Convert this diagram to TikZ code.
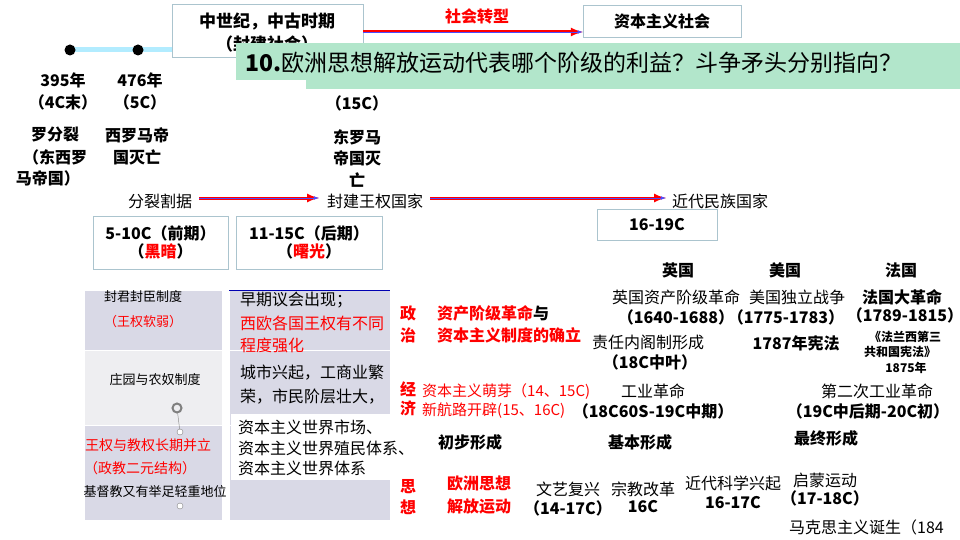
\documentclass[tikz,border=0pt]{standalone}
\usepackage{fontspec}
\setmainfont{Noto Sans CJK SC}
\usetikzlibrary{calc}
\begin{document}
\begin{tikzpicture}[x=1pt,y=-1pt,
  t/.style={inner sep=0pt,font=\fontsize{16}{18}\selectfont\bfseries},
  tn/.style={inner sep=0pt,font=\fontsize{16}{18}\selectfont},
  r/.style={text=red},
  bx/.style={draw=cyan!30!gray!60,line width=0.8pt,fill=white},
  arr/.style={-latex,line width=3pt,draw=red,postaction={draw=blue!70,line width=0.7pt,-latex}},
  cell/.style={fill=#1,draw=white,line width=1pt}]
\useasboundingbox (0,0) rectangle (960,540);
% timeline
\draw[line width=5pt,blue!25!cyan!30] (70,50) -- (240,50);
\node[circle,fill=black,minimum size=11pt,inner sep=0pt] (d1) at (70,50) {};
\node[circle,fill=black,minimum size=11pt,inner sep=0pt] (d2) at (138,50) {};
\node[bx,minimum width=191pt,minimum height=53pt] (mid) at (267.5,30.5) {};
\node[t,font=\fontsize{17}{19}\selectfont\bfseries] (mid1) at (267,22) {中世纪，中古时期};
\node[t,font=\fontsize{17}{19}\selectfont\bfseries] (mid2) at (267,44) {（封建社会）};
\node[bx,minimum width=158pt,minimum height=32pt] (cap) at (662,21) {};
\node[t] (capt) at (662,21) {资本主义社会};
\node[t,r] (zx) at (477,16) {社会转型};
\draw[arr] (mid.east |- 0,32) -- (cap.west |- 0,32);
% banner
\fill[green!35!teal!30!white] (306,50) rectangle (960,89);
\fill[green!35!teal!30!white] (236,43) rectangle (960,80);
\node[inner sep=0pt,anchor=west,font=\fontsize{23}{25}\selectfont] (q) at (245,63) {\textbf{10.}欧洲思想解放运动代表哪个阶级的利益？斗争矛头分别指向？};
% dates
\node[t] (a1) at (63,80) {395年};
\node[t] (a2) at (63,102) {（4C末）};
\node[t] (b1) at (140,80) {476年};
\node[t] (b2) at (140,102) {（5C）};
\node[t] (c2) at (357,103) {（15C）};
\node[t] (a3) at (55,135) {罗分裂};
\node[t] (a4) at (55,157) {（东西罗};
\node[t] (a5) at (48,178) {马帝国）};
\node[t] (b3) at (137,135) {西罗马帝};
\node[t] (b4) at (137,157) {国灭亡};
\node[t] (c3) at (357,137) {东罗马};
\node[t] (c4) at (357,158) {帝国灭};
\node[t] (c5) at (357,180) {亡};
\node[tn] (s1) at (160,201) {分裂割据};
\node[tn] (s2) at (375,201) {封建王权国家};
\node[tn] (s3) at (720,201) {近代民族国家};
\draw[arr] ($(s1.east)+(7,-3)$) -- ($(s2.west)+(-8,-3)$);
\draw[arr] ($(s2.east)+(7,-3)$) -- ($(s3.west)+(-6,-3)$);
\node[bx,minimum width=135pt,minimum height=53pt] (p1) at (160.5,242.5) {};
\node[t,align=center] at (p1) {5-10C（前期）\\（\textcolor{red}{黑暗}）};
\node[bx,minimum width=146pt,minimum height=53pt] (p2) at (309,242.5) {};
\node[t,align=center] at (p2) {11-15C（后期）\\（\textcolor{red}{曙光}）};
\node[bx,minimum width=120pt,minimum height=31pt] (p3) at (657,224.5) {};
\node[t] at (p3) {16-19C};
% table
\fill[cell={blue!20!gray!25}] (84,290) rectangle (222,350);
\fill[cell={blue!20!gray!25}] (229,290) rectangle (390,350);
\fill[cell={blue!10!gray!12}] (84,350) rectangle (222,425);
\fill[cell={blue!20!gray!25}] (229,350) rectangle (390,425);
\fill[cell={blue!20!gray!25}] (84,425) rectangle (222,520);
\fill[cell={blue!20!gray!25}] (229,425) rectangle (390,520);
\draw[blue!70!black,line width=0.8pt] (229,290) -- (390,290);
\node[tn,font=\fontsize{13}{15}\selectfont] at (143,297) {封君封臣制度};
\node[tn,r,font=\fontsize{13}{15}\selectfont] at (143,322) {（王权软弱）};
\node[tn,font=\fontsize{13}{15}\selectfont] at (155,380) {庄园与农奴制度};
\node[circle,draw=gray,line width=2pt,minimum size=9pt,inner sep=0pt] (ic) at (177,408) {};
\node[circle,draw=gray,fill=white,minimum size=6pt,inner sep=0pt] (h1) at (180,432) {};
\node[circle,draw=gray,fill=white,minimum size=6pt,inner sep=0pt] (h2) at (180,506) {};
\draw[gray] (ic) -- (h1);
\node[tn,r,font=\fontsize{14}{16}\selectfont] at (148,445) {王权与教权长期并立};
\node[tn,r,font=\fontsize{14}{16}\selectfont] at (140,468) {（政教二元结构）};
\node[tn,font=\fontsize{13}{15}\selectfont] at (155,492) {基督教又有举足轻重地位};
\node[tn,anchor=west] at (240,300) {早期议会出现；};
\node[tn,r,anchor=west] at (240,323) {西欧各国王权有不同};
\node[tn,r,anchor=west] at (240,345) {程度强化};
\node[tn,anchor=west] at (240,373) {城市兴起，工商业繁};
\node[tn,anchor=west] at (240,397) {荣，市民阶层壮大，};
\fill[white] (231,414) rectangle (433,480);
\node[tn,anchor=west,align=left,font=\fontsize{16}{20.5}\selectfont] at (238,448) {资本主义世界市场、\\资本主义世界殖民体系、\\资本主义世界体系};
% right side
\node[t] at (678,270) {英国};
\node[t] at (785,270) {美国};
\node[t] at (901,270) {法国};
\node[t,r] at (408,313) {政};
\node[t,r] at (408,335) {治};
\node[t,anchor=west] at (437,313) {\textcolor{red}{资产阶级革命}与};
\node[t,r,anchor=west] at (437,335) {资本主义制度的确立};
\node[tn] at (676,297) {英国资产阶级革命};
\node[t] at (676,317) {（1640-1688）};
\node[tn] at (797,297) {美国独立战争};
\node[t] at (786,317) {（1775-1783）};
\node[t] at (902,297) {法国大革命};
\node[t] at (905,315) {（1789-1815）};
\node[tn] at (648,342) {责任内阁制形成};
\node[t] at (650,362) {（18C中叶）};
\node[t] at (796,343) {1787年宪法};
\node[t,font=\fontsize{12}{14}\selectfont\bfseries] at (905,337) {《法兰西第三};
\node[t,font=\fontsize{12}{14}\selectfont\bfseries] at (900,352) {共和国宪法》};
\node[t,font=\fontsize{12}{14}\selectfont\bfseries] at (906,368) {1875年};
\node[t,r] at (408,389) {经};
\node[t,r] at (408,408) {济};
\node[tn,r,anchor=west,font=\fontsize{15}{17}\selectfont] at (422,392) {资本主义萌芽（14、15C)};
\node[tn,r,anchor=west,font=\fontsize{15}{17}\selectfont] at (422,411) {新航路开辟(15、16C)};
\node[tn] at (653,391) {工业革命};
\node[t] at (653,411) {（18C60S-19C中期）};
\node[tn] at (877,391) {第二次工业革命};
\node[t] at (868,411) {（19C中后期-20C初）};
\node[t] at (470,442) {初步形成};
\node[t] at (640,442) {基本形成};
\node[t] at (826,438) {最终形成};
\node[t,r] at (408,487) {思};
\node[t,r] at (408,507) {想};
\node[t,r] at (479,483) {欧洲思想};
\node[t,r] at (479,506) {解放运动};
\node[tn] at (568,489) {文艺复兴};
\node[t] at (568,508) {（14-17C）};
\node[tn] at (643,489) {宗教改革};
\node[t] at (643,507) {16C};
\node[tn] at (733,483) {近代科学兴起};
\node[t] at (733,503) {16-17C};
\node[tn] at (825,480) {启蒙运动};
\node[t] at (825,498) {（17-18C）};
\node[tn,anchor=west] at (789,527) {马克思主义诞生（184};
\end{tikzpicture}
\end{document}
